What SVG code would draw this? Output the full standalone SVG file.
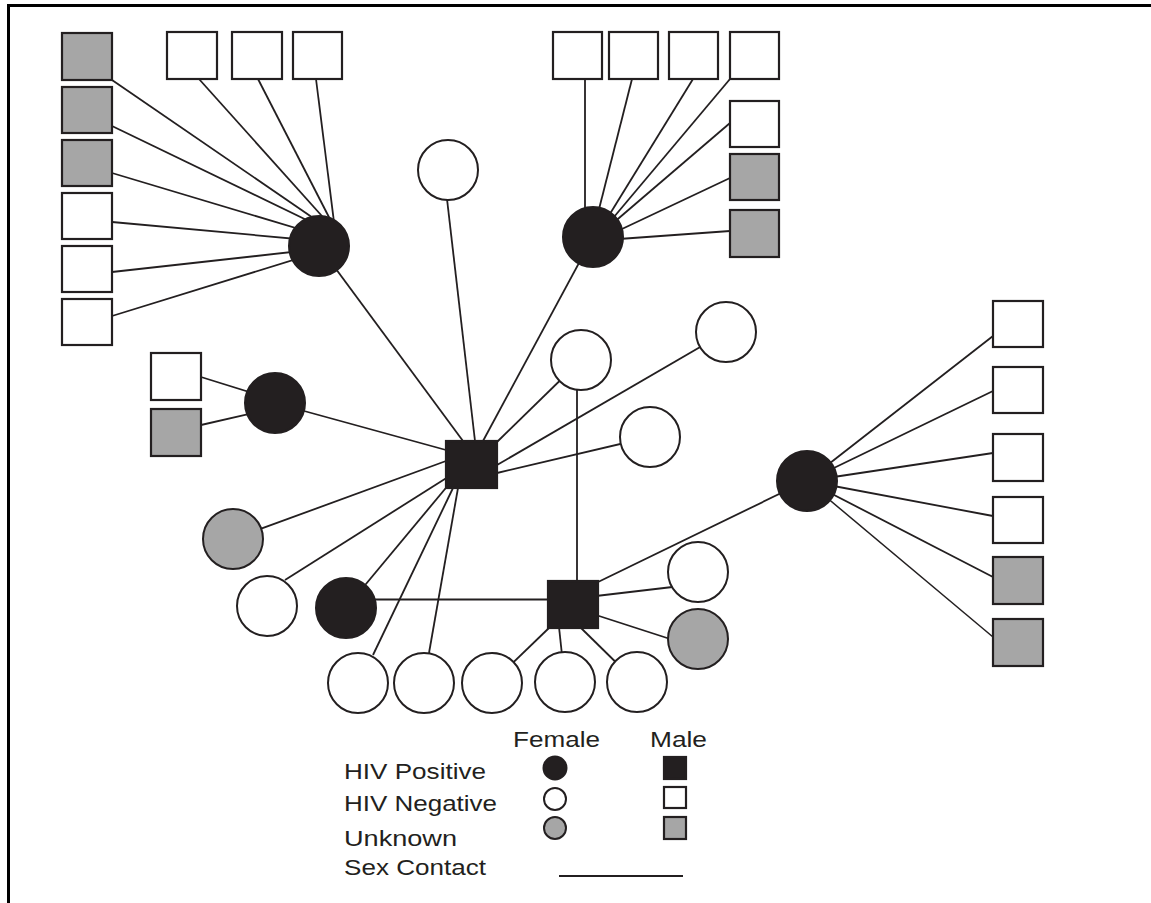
<svg xmlns="http://www.w3.org/2000/svg" width="1151" height="903" viewBox="0 0 1151 903">
<style>
.sq{stroke:#231f20;stroke-width:2.2}
.ci{stroke:#231f20;stroke-width:2}
.pos{fill:#231f20}
.neg{fill:#ffffff}
.unk{fill:#a6a6a6}
.ln{stroke:#231f20;stroke-width:1.8;fill:none}
.lbl{font-family:"Liberation Sans",Arial,sans-serif;font-size:22px;fill:#231f20}
</style>
<rect x="0" y="0" width="1151" height="903" fill="#ffffff"/>
<g id="frame">
<line x1="7" y1="5.5" x2="1151" y2="5.5" stroke="#000" stroke-width="3"/>
<line x1="8.5" y1="4" x2="8.5" y2="903" stroke="#000" stroke-width="3"/>
</g>
<g id="connectors" class="ln">
<!-- top-left cluster -->
<line x1="112" y1="80" x2="319" y2="222"/>
<line x1="112" y1="126" x2="319" y2="226"/>
<line x1="112" y1="173" x2="319" y2="235"/>
<line x1="112" y1="222" x2="319" y2="241"/>
<line x1="112" y1="272" x2="319" y2="249"/>
<line x1="112" y1="316" x2="319" y2="252"/>
<line x1="199" y1="79" x2="330" y2="225"/>
<line x1="258" y1="79" x2="333" y2="225"/>
<line x1="316" y1="79" x2="335" y2="230"/>
<line x1="319" y1="246" x2="463" y2="441"/>
<!-- top-right cluster -->
<line x1="585" y1="79" x2="585" y2="230"/>
<line x1="632" y1="79" x2="595" y2="225"/>
<line x1="693" y1="79" x2="600" y2="230"/>
<line x1="730" y1="79" x2="603" y2="230"/>
<line x1="730" y1="123" x2="605" y2="230"/>
<line x1="730" y1="178" x2="605" y2="237"/>
<line x1="730" y1="231" x2="605" y2="240"/>
<line x1="593" y1="237" x2="483" y2="441"/>
<!-- top circle -->
<line x1="447" y1="199" x2="475" y2="441"/>
<!-- left circle with two squares -->
<line x1="201" y1="377" x2="275" y2="400"/>
<line x1="201" y1="425" x2="275" y2="408"/>
<line x1="275" y1="403" x2="446" y2="450"/>
<!-- central square S1 -->
<line x1="233" y1="539" x2="446" y2="461"/>
<line x1="285" y1="580" x2="448" y2="477"/>
<line x1="346" y1="608" x2="450" y2="483"/>
<line x1="373" y1="655" x2="453" y2="488"/>
<line x1="429" y1="653" x2="458" y2="488"/>
<line x1="581" y1="360" x2="497" y2="442"/>
<line x1="726" y1="332" x2="497" y2="465"/>
<line x1="650" y1="437" x2="497" y2="473"/>
<!-- vertical to S2 -->
<line x1="577" y1="385" x2="577" y2="582"/>
<!-- S2 -->
<line x1="346" y1="599.5" x2="550" y2="599.5"/>
<line x1="596" y1="583" x2="806" y2="481"/>
<line x1="596" y1="596" x2="698" y2="584"/>
<line x1="596" y1="615" x2="698" y2="648"/>
<line x1="550" y1="627" x2="492" y2="683"/>
<line x1="559" y1="627" x2="565" y2="683"/>
<line x1="580" y1="627" x2="637" y2="683"/>
<!-- right cluster -->
<line x1="807" y1="481" x2="993" y2="336"/>
<line x1="807" y1="481" x2="993" y2="391"/>
<line x1="807" y1="481" x2="993" y2="453"/>
<line x1="807" y1="481" x2="993" y2="516"/>
<line x1="807" y1="481" x2="993" y2="577"/>
<line x1="807" y1="481" x2="993" y2="637" stroke-width="1.5"/>
</g>
<g id="n-tl-hub"><circle class="ci pos" cx="319" cy="246" r="30"/></g>
<g id="n-tl-1"><rect class="sq unk" x="62" y="33" width="50" height="47"/></g>
<g id="n-tl-2"><rect class="sq unk" x="62" y="87" width="50" height="46"/></g>
<g id="n-tl-3"><rect class="sq unk" x="62" y="140" width="50" height="46"/></g>
<g id="n-tl-4"><rect class="sq neg" x="62" y="193" width="50" height="46"/></g>
<g id="n-tl-5"><rect class="sq neg" x="62" y="246" width="50" height="46"/></g>
<g id="n-tl-6"><rect class="sq neg" x="62" y="299" width="50" height="46"/></g>
<g id="n-tl-7"><rect class="sq neg" x="167" y="32" width="50" height="47"/></g>
<g id="n-tl-8"><rect class="sq neg" x="232" y="32" width="50" height="47"/></g>
<g id="n-tl-9"><rect class="sq neg" x="293" y="32" width="49" height="47"/></g>
<g id="n-top-circle"><circle class="ci neg" cx="448" cy="170" r="30"/></g>
<g id="n-tr-hub"><circle class="ci pos" cx="593" cy="237" r="30"/></g>
<g id="n-tr-1"><rect class="sq neg" x="553" y="32" width="49" height="47"/></g>
<g id="n-tr-2"><rect class="sq neg" x="609" y="32" width="49" height="47"/></g>
<g id="n-tr-3"><rect class="sq neg" x="669" y="32" width="49" height="47"/></g>
<g id="n-tr-4"><rect class="sq neg" x="730" y="32" width="49" height="47"/></g>
<g id="n-tr-5"><rect class="sq neg" x="730" y="101" width="49" height="46"/></g>
<g id="n-tr-6"><rect class="sq unk" x="730" y="154" width="49" height="46"/></g>
<g id="n-tr-7"><rect class="sq unk" x="730" y="210" width="49" height="47"/></g>
<g id="n-l-hub"><circle class="ci pos" cx="275" cy="403" r="30"/></g>
<g id="n-l-1"><rect class="sq neg" x="151" y="353" width="50" height="47"/></g>
<g id="n-l-2"><rect class="sq unk" x="151" y="409" width="50" height="47"/></g>
<g id="n-s1"><rect class="sq pos" x="446" y="441" width="51" height="47"/></g>
<g id="n-c1"><circle class="ci neg" cx="581" cy="360" r="30"/></g>
<g id="n-c2"><circle class="ci neg" cx="726" cy="332" r="30"/></g>
<g id="n-c3"><circle class="ci neg" cx="650" cy="437" r="30"/></g>
<g id="n-c4"><circle class="ci unk" cx="233" cy="539" r="30"/></g>
<g id="n-c5"><circle class="ci neg" cx="267" cy="606" r="30"/></g>
<g id="n-c6"><circle class="ci pos" cx="346" cy="608" r="30"/></g>
<g id="n-b1"><circle class="ci neg" cx="358" cy="683" r="30"/></g>
<g id="n-b2"><circle class="ci neg" cx="424" cy="683" r="30"/></g>
<g id="n-b3"><circle class="ci neg" cx="492" cy="683" r="30"/></g>
<g id="n-b4"><circle class="ci neg" cx="565" cy="682" r="30"/></g>
<g id="n-b5"><circle class="ci neg" cx="637" cy="682" r="30"/></g>
<g id="n-s2"><rect class="sq pos" x="548" y="581" width="50" height="47"/></g>
<g id="n-c7"><circle class="ci neg" cx="698" cy="572" r="30"/></g>
<g id="n-c8"><circle class="ci unk" cx="698" cy="639" r="30"/></g>
<g id="n-r-hub"><circle class="ci pos" cx="807" cy="481" r="30"/></g>
<g id="n-r-1"><rect class="sq neg" x="993" y="301" width="50" height="46"/></g>
<g id="n-r-2"><rect class="sq neg" x="993" y="367" width="50" height="46"/></g>
<g id="n-r-3"><rect class="sq neg" x="993" y="434" width="50" height="47"/></g>
<g id="n-r-4"><rect class="sq neg" x="993" y="497" width="50" height="46"/></g>
<g id="n-r-5"><rect class="sq unk" x="993" y="557" width="50" height="47"/></g>
<g id="n-r-6"><rect class="sq unk" x="993" y="619" width="50" height="47"/></g>
<g id="legend">
<text class="lbl" x="513" y="747" textLength="87" lengthAdjust="spacingAndGlyphs">Female</text>
<text class="lbl" x="650" y="747" textLength="57" lengthAdjust="spacingAndGlyphs">Male</text>
<text class="lbl" x="344" y="779" textLength="142" lengthAdjust="spacingAndGlyphs">HIV Positive</text>
<text class="lbl" x="344" y="811" textLength="153" lengthAdjust="spacingAndGlyphs">HIV Negative</text>
<text class="lbl" x="344" y="846" textLength="113" lengthAdjust="spacingAndGlyphs">Unknown</text>
<text class="lbl" x="344" y="875" textLength="142" lengthAdjust="spacingAndGlyphs">Sex Contact</text>
<circle class="ci pos" cx="555" cy="768" r="11.5"/>
<circle class="ci neg" cx="555" cy="799" r="11"/>
<circle class="ci unk" cx="555" cy="828" r="11"/>
<rect class="sq pos" x="664" y="757" width="22" height="22"/>
<rect class="sq neg" x="664" y="787" width="22" height="21"/>
<rect class="sq unk" x="664" y="817" width="22" height="22"/>
<line class="ln" x1="559" y1="876" x2="683" y2="876"/>
</g>
</svg>
